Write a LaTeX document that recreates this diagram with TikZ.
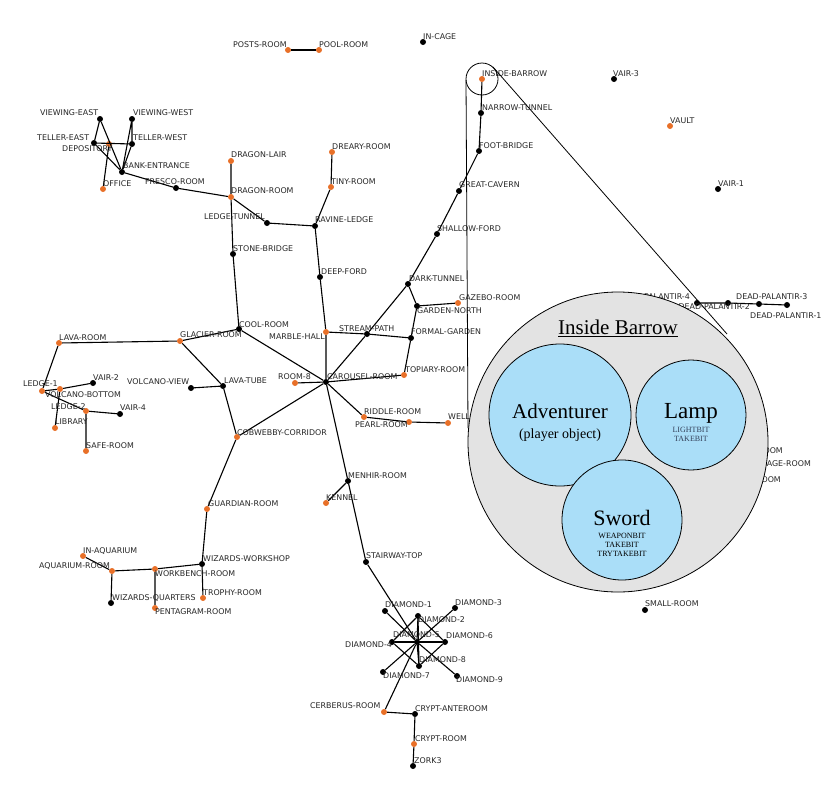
\documentclass[tikz,border=0pt]{standalone}
\usepackage{fontspec}
\setmainfont{Liberation Serif}
\newfontfamily\labfont{DejaVu Sans}
\begin{document}
\begin{tikzpicture}[x=1pt,y=-1pt,
  db/.style={circle,fill=black,inner sep=0pt,minimum size=6pt},
  dor/.style={circle,fill={rgb,255:red,232;green,112;blue,40},inner sep=0pt,minimum size=6pt},
  lab/.style={anchor=west,inner sep=0pt,font=\labfont\fontsize{7.9}{8}\selectfont,text=black!85},
  labe/.style={lab,anchor=east},
  edge/.style={line width=1.1pt},
  thin/.style={line width=0.8pt},
  inner/.style={circle,draw=black,line width=0.8pt,fill={rgb,255:red,170;green,222;blue,248},inner sep=0pt}]
\useasboundingbox (0,0) rectangle (830,809);
\newcommand\V[6]{\node[#4] (#1) at (#2,#3) {};}
% nodes
\V{posts}{288}{50}{dor}{}{}
\V{pool}{319}{50}{dor}{}{}
\V{incage}{423}{42}{db}{}{}
\V{barrow}{482}{79}{dor}{}{}
\V{vair3}{614}{79}{db}{}{}
\V{narrow}{481}{113}{db}{}{}
\V{vault}{670}{126}{dor}{}{}
\V{veast}{100}{119}{db}{}{}
\V{vwest}{132}{119}{db}{}{}
\V{teast}{94}{143}{db}{}{}
\V{twest}{132}{144}{db}{}{}
\V{depos}{109}{144}{dor}{}{}
\V{bank}{122}{172}{db}{}{}
\V{office}{103}{189}{dor}{}{}
\V{fresco}{176}{188}{db}{}{}
\V{dlair}{231}{161}{dor}{}{}
\V{droom}{231}{197}{dor}{}{}
\V{ltunnel}{267}{223}{db}{}{}
\V{ravine}{315}{226}{db}{}{}
\V{dreary}{332}{152}{dor}{}{}
\V{tiny}{331}{187}{dor}{}{}
\V{foot}{479}{151}{db}{}{}
\V{great}{459}{191}{db}{}{}
\V{vair1}{718}{189}{db}{}{}
\V{shallow}{437}{234}{db}{}{}
\V{stone}{233}{254}{db}{}{}
\V{deep}{320}{277}{db}{}{}
\V{dark}{408}{284}{db}{}{}
\V{gnorth}{417}{306}{db}{}{}
\V{gazebo}{458}{303}{dor}{}{}
\V{marble}{326}{332}{dor}{}{}
\V{stream}{367}{334}{db}{}{}
\V{formal}{411}{338}{db}{}{}
\V{topiary}{404}{375}{dor}{}{}
\V{carousel}{326}{382}{db}{}{}
\V{room8}{295}{383}{dor}{}{}
\V{riddle}{364}{417}{dor}{}{}
\V{pearl}{409}{422}{dor}{}{}
\V{well}{448}{423}{dor}{}{}
\V{cool}{239}{329}{db}{}{}
\V{glacier}{180}{341}{dor}{}{}
\V{lavaroom}{59}{343}{dor}{}{}
\V{ledge1}{42}{391}{dor}{}{}
\V{vbottom}{60}{389}{dor}{}{}
\V{vair2}{93}{383}{db}{}{}
\V{ledge2}{86}{411}{dor}{}{}
\V{vair4}{120}{414}{db}{}{}
\V{library}{55}{428}{dor}{}{}
\V{safe}{86}{451}{dor}{}{}
\V{vview}{191}{388}{db}{}{}
\V{lavatube}{223}{386}{db}{}{}
\V{cobweb}{237}{437}{dor}{}{}
\V{menhir}{348}{481}{db}{}{}
\V{kennel}{326}{503}{dor}{}{}
\V{guardian}{207}{509}{dor}{}{}
\V{workshop}{202}{564}{db}{}{}
\V{inaq}{83}{556}{dor}{}{}
\V{aqroom}{112}{571}{dor}{}{}
\V{workbench}{155}{569}{dor}{}{}
\V{quarters}{111}{603}{db}{}{}
\V{pentagram}{155}{608}{dor}{}{}
\V{trophy}{203}{598}{dor}{}{}
\V{stairway}{366}{562}{db}{}{}
\V{small}{645}{610}{db}{}{}
\V{d1}{385}{611}{db}{}{}
\V{d2}{418}{616}{db}{}{}
\V{d3}{455}{608}{db}{}{}
\V{d4}{392}{642}{db}{}{}
\V{d5}{417}{642}{db}{}{}
\V{d6}{445}{642}{db}{}{}
\V{d7}{383}{672}{db}{}{}
\V{d8}{419}{666}{db}{}{}
\V{d9}{457}{676}{db}{}{}
\V{cerberus}{384}{712}{dor}{}{}
\V{anteroom}{415}{714}{db}{}{}
\V{crypt}{414}{744}{dor}{}{}
\V{zork3}{413}{766}{db}{}{}
\V{dp4}{697}{303}{db}{}{}
\V{dp2}{728}{303}{db}{}{}
\V{dp3}{759}{304}{db}{}{}
\V{dp1}{787}{305}{db}{}{}
\V{hid1}{740}{455}{db}{}{}
\V{hid2}{745}{468}{db}{}{}
\V{hid3}{740}{484}{db}{}{}
% edges
\begin{scope}[on background layer/.try]
\draw[edge] (posts)--(pool);
\draw[edge] (barrow)--(narrow)--(foot)--(great)--(shallow)--(dark)--(stream)--(carousel);
\draw[edge] (veast)--(teast) (veast)--(bank) (vwest)--(twest) (vwest)--(bank) (teast)--(twest) (teast)--(bank) (twest)--(bank) (depos)--(office);
\draw[edge] (bank)--(fresco)--(droom)--(dlair) (droom)--(ltunnel)--(ravine) (droom)--(stone)--(cool);
\draw[edge] (dreary)--(tiny)--(ravine)--(deep)--(marble)--(carousel);
\draw[edge] (marble)--(stream)--(formal)--(topiary)--(carousel) (dark)--(gnorth)--(formal) (gnorth)--(gazebo);
\draw[edge] (carousel)--(room8) (carousel)--(riddle)--(pearl)--(well) (cool)--(carousel) (cool)--(glacier)--(lavaroom)--(ledge1)--(vbottom)--(vair2);
\draw[edge] (ledge1)--(ledge2)--(vair4) (ledge2)--(safe) (vbottom)--(library);
\draw[edge] (glacier)--(lavatube)--(vview) (lavatube)--(cobweb)--(carousel) (cobweb)--(guardian)--(workshop)--(workbench)--(aqroom)--(inaq) (aqroom)--(quarters) (workbench)--(pentagram) (workshop)--(trophy);
\draw[edge] (carousel)--(menhir)--(kennel) (menhir)--(stairway)--(d5);
\foreach \d in {d1,d2,d3,d4,d6,d7,d8,d9} \draw[edge] (d5)--(\d);
\draw[edge] (d2)--(d4)--(d8)--(d6)--(d2)--(d8) (d4)--(d6);
\draw[edge] (d5)--(cerberus)--(anteroom)--(crypt)--(zork3);
\draw[edge] (dp4)--(dp2)--(dp3)--(dp1);
\end{scope}
% labels
\node[lab] (l1) at (233,45) {POSTS-ROOM};
\node[lab] (l2) at (319,45) {POOL-ROOM};
\node[lab] (l3) at (423,37) {IN-CAGE};
\node[lab] (l4) at (482,74) {INSIDE-BARROW};
\node[lab] (l5) at (613,74) {VAIR-3};
\node[lab] (l6) at (482,108) {NARROW-TUNNEL};
\node[lab] (l7) at (670,121) {VAULT};
\node[lab] (l8) at (40,113) {VIEWING-EAST};
\node[lab] (l9) at (133,113) {VIEWING-WEST};
\node[lab] (l10) at (37,138) {TELLER-EAST};
\node[lab] (l11) at (133,138) {TELLER-WEST};
\node[lab] (l12) at (62,149) {DEPOSITORY};
\node[lab] (l13) at (123,166) {BANK-ENTRANCE};
\node[lab] (l14) at (103,184) {OFFICE};
\node[lab] (l15) at (145,182) {FRESCO-ROOM};
\node[lab] (l16) at (231,155) {DRAGON-LAIR};
\node[lab] (l17) at (231,191) {DRAGON-ROOM};
\node[lab] (l18) at (204,217) {LEDGE-TUNNEL};
\node[lab] (l19) at (315,220) {RAVINE-LEDGE};
\node[lab] (l20) at (332,147) {DREARY-ROOM};
\node[lab] (l21) at (331,182) {TINY-ROOM};
\node[lab] (l22) at (479,146) {FOOT-BRIDGE};
\node[lab] (l23) at (459,185) {GREAT-CAVERN};
\node[lab] (l24) at (718,184) {VAIR-1};
\node[lab] (l25) at (437,229) {SHALLOW-FORD};
\node[lab] (l26) at (233,249) {STONE-BRIDGE};
\node[lab] (l27) at (321,272) {DEEP-FORD};
\node[lab] (l28) at (409,279) {DARK-TUNNEL};
\node[lab] (l29) at (459,298) {GAZEBO-ROOM};
\node[lab] (l30) at (417,311) {GARDEN-NORTH};
\node[lab] (l31) at (339,329) {STREAM-PATH};
\node[lab] (l32) at (411,332) {FORMAL-GARDEN};
\node[lab] (l33) at (269,337) {MARBLE-HALL};
\node[lab] (l34) at (239,325) {COOL-ROOM};
\node[lab] (l35) at (180,335) {GLACIER-ROOM};
\node[lab] (l36) at (59,338) {LAVA-ROOM};
\node[lab] (l37) at (405,370) {TOPIARY-ROOM};
\node[lab] (l38) at (327,377) {CAROUSEL-ROOM};
\node[lab] (l39) at (278,377) {ROOM-8};
\node[lab] (l40) at (224,381) {LAVA-TUBE};
\node[lab] (l41) at (127,382) {VOLCANO-VIEW};
\node[lab] (l42) at (93,378) {VAIR-2};
\node[lab] (l43) at (23,384) {LEDGE-1};
\node[lab] (l44) at (45,395) {VOLCANO-BOTTOM};
\node[lab] (l45) at (51,407) {LEDGE-2};
\node[lab] (l46) at (120,408) {VAIR-4};
\node[lab] (l47) at (55,422) {LIBRARY};
\node[lab] (l48) at (86,446) {SAFE-ROOM};
\node[lab] (l49) at (364,412) {RIDDLE-ROOM};
\node[lab] (l50) at (355,425) {PEARL-ROOM};
\node[lab] (l51) at (448,417) {WELL};
\node[lab] (l52) at (237,433) {COBWEBBY-CORRIDOR};
\node[lab] (l53) at (348,476) {MENHIR-ROOM};
\node[lab] (l54) at (326,498) {KENNEL};
\node[lab] (l55) at (208,504) {GUARDIAN-ROOM};
\node[lab] (l56) at (83,551) {IN-AQUARIUM};
\node[lab] (l57) at (203,559) {WIZARDS-WORKSHOP};
\node[lab] (l58) at (39,566) {AQUARIUM-ROOM};
\node[lab] (l59) at (155,574) {WORKBENCH-ROOM};
\node[lab] (l60) at (366,556) {STAIRWAY-TOP};
\node[lab] (l61) at (203,593) {TROPHY-ROOM};
\node[lab] (l62) at (112,598) {WIZARDS-QUARTERS};
\node[lab] (l63) at (155,612) {PENTAGRAM-ROOM};
\node[lab] (l64) at (645,604) {SMALL-ROOM};
\node[lab] (l65) at (385,605) {DIAMOND-1};
\node[lab] (l66) at (455,603) {DIAMOND-3};
\node[lab] (l67) at (418,620) {DIAMOND-2};
\node[lab] (l68) at (393,635) {DIAMOND-5};
\node[lab] (l69) at (446,636) {DIAMOND-6};
\node[lab] (l70) at (345,645) {DIAMOND-4};
\node[lab] (l71) at (419,660) {DIAMOND-8};
\node[lab] (l72) at (383,676) {DIAMOND-7};
\node[lab] (l73) at (456,680) {DIAMOND-9};
\node[lab] (l74) at (310,706) {CERBERUS-ROOM};
\node[lab] (l75) at (415,709) {CRYPT-ANTEROOM};
\node[lab] (l76) at (415,739) {CRYPT-ROOM};
\node[lab] (l77) at (414,761) {ZORK3};
\node[lab] (l78) at (736,297) {DEAD-PALANTIR-3};
\node[lab] (l79) at (750,316) {DEAD-PALANTIR-1};
\node[labe] (l80) at (690,297) {DEAD-PALANTIR-4};
\node[labe] (l81) at (750,307) {DEAD-PALANTIR-2};
\node[labe] (l82) at (783,451) {SHAFT-ROOM};
\node[labe] (l83) at (811,464) {PASSAGE-ROOM};
\node[labe] (l84) at (781,480) {BAT-ROOM};
% zoom callout
\node[circle,draw=black,thin,minimum size=32pt,inner sep=0pt] (zoomc) at (482,79) {};
\coordinate (t1) at (466,80);
\coordinate (t2) at (468,428);
\coordinate (t3) at (493,67);
\coordinate (t4) at (727,334);
\draw[thin] (t1)--(t2) (t3)--(t4);
\node[circle,draw=black,thin,fill=black!11,minimum size=300pt,inner sep=0pt] (big) at (618,442) {};
\node[font=\fontsize{21}{24}\selectfont] (title) at (618,328) {\underline{Inside Barrow}};
\node[inner,minimum size=142pt] (adv) at (560,415) {};
\node[font=\fontsize{21}{24}\selectfont] (advt) at (560,411) {Adventurer};
\node[font=\fontsize{14}{16}\selectfont] (advs) at (560,435) {(player object)};
\node[inner,minimum size=110pt] (lamp) at (691,415) {};
\node[align=center] (lampt) at (691,422) {{\fontsize{23}{24}\selectfont Lamp}\\[2pt]{\fontsize{8}{9}\selectfont\color[rgb]{0.2,0.25,0.35} LIGHTBIT}\\[-3pt]{\fontsize{8}{9}\selectfont\color[rgb]{0.2,0.25,0.35} TAKEBIT}};
\node[inner,minimum size=120pt] (sword) at (622,520) {};
\node[align=center] (swordt) at (622,533) {{\fontsize{22}{24}\selectfont Sword}\\[1pt]{\fontsize{8}{9}\selectfont WEAPONBIT}\\[-3pt]{\fontsize{8}{9}\selectfont TAKEBIT}\\[-3pt]{\fontsize{8}{9}\selectfont TRYTAKEBIT}};
\end{tikzpicture}
\end{document}
